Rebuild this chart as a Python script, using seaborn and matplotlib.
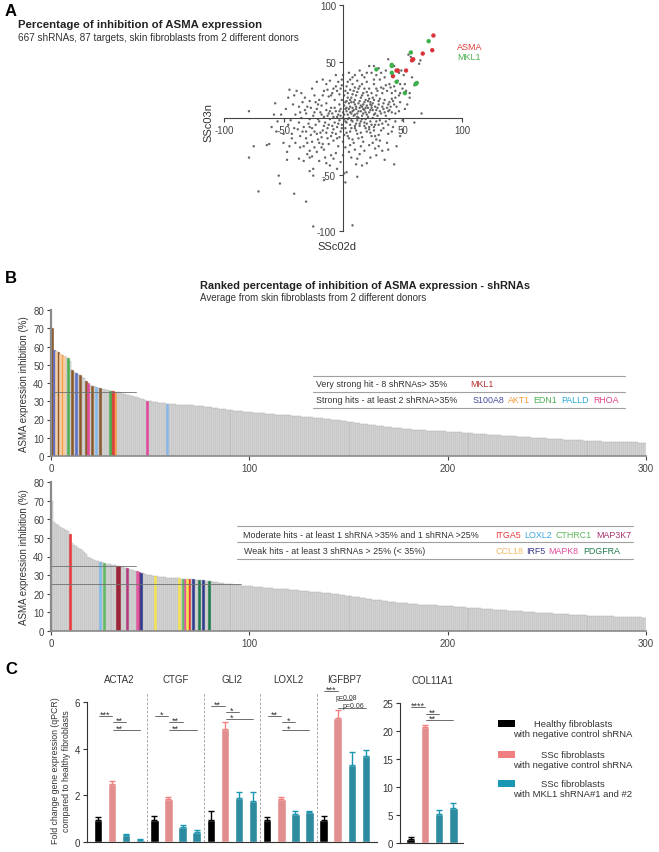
import numpy as np
import pandas as pd
import matplotlib
matplotlib.use("Agg")
import matplotlib.pyplot as plt
import seaborn as sns
from matplotlib.lines import Line2D
from matplotlib.patches import Rectangle

sns.set_theme(style="ticks")
plt.rcParams["font.family"] = ["Liberation Sans", "DejaVu Sans"]
plt.rcParams["axes.unicode_minus"] = False

# ---------------- DATA ----------------
# Panel A: grey shRNA points (SSc02d, SSc03n)
grey_pts = [
    (-79, 6), (-79, -35), (-75, -25), (-64, -24), (-62, -23), (-57, 13), (-39, 24), (-41, 20), (-17, 34), (-1, 34),
    (-71, -65), (-54, -51), (-53, -58), (-41, -67), (-31, -74), (-25, -96), (8, -95), (2, -57), (3, -48), (1, -49),
    (-16, -55), (-25, -51), (-28, -47), (12, -52), (16, -42), (23, -35), (35, -37), (43, -41), (11, -41), (-2, -39),
    (-8, -36), (-11, -42), (-15, -35), (-25, -45), (-28, -35), (-33, -38), (-37, -36), (-47, -30), (-45, -25), (37, -22),
    (33, -29), (48, -16), (60, -4), (66, 4), (38, 52), (26, 46), (22, 46), (65, 51), (64, 48), (55, 56),
    (57, 54), (60, 29), (52, 30), (58, 36), (56, 22), (48, 22), (41, 17), (20, 40), (-14, 30), (-36, 5),
    (-55, -3), (-50, -14), (-60, -8), (-48, 8), (-52, 3), (-43, -18), (-38, -10), (-30, -22), (-22, -30), (-18, -26),
    (5, -30), (15, -25), (25, -22), (30, -15), (42, -8), (50, -2), (52, 8), (45, 10), (47, 40), (49, 42),
    (43, 46), (51, 38),
    (5, 40), (10, 38), (14, 42), (18, 36), (24, 40), (28, 38), (31, 34), (35, 36), (39, 30), (43, 28),
    (46, 33), (50, 26), (53, 24), (36, 42), (30, 44), (12, 33), (8, 30), (3, 28), (-2, 26), (-6, 28),
    (-9, 22), (-12, 19), (-16, 24), (-20, 16), (-24, 20), (-28, 15), (-32, 18), (-26, 26), (-11, 33), (0, 38),
    (6, 34), (16, 30), (20, 32), (22, 26), (26, 30), (29, 24), (33, 22), (37, 24), (41, 22), (44, 18),
    (47, 20), (9, 24), (13, 26), (17, 22), (21, 20), (25, 18), (28, 20), (31, 17), (35, 16), (39, 14),
    (1, 20), (4, 22), (7, 18), (11, 20), (15, 18), (19, 16), (23, 14), (-3, 21), (-7, 16), (-1, 16),
    (3, 15), (-14, 13), (-18, 11), (-5, 24), (-30, 10), (-34, 14), (-42, 12), (-46, 18),
    (0, 5), (2, 8), (4, 3), (6, 10), (8, 6), (10, 12), (12, 4), (14, 9), (16, 2), (18, 7),
    (20, 11), (22, 5), (24, 9), (26, 3), (28, 7), (30, 12), (32, 4), (34, 8), (36, 2), (38, 6),
    (40, 10), (44, 4), (47, 6), (-2, 8), (-4, 3), (-6, 6), (-8, 1), (-10, 9), (-12, 4), (-14, 7),
    (-16, 1), (-19, 5), (-22, 8), (-25, 2), (-28, -1), (-31, 4), (-35, 0), (-40, 3), (-44, -2), (1, -1),
    (3, -4), (5, 0), (7, -2), (9, 2), (11, -5), (13, 0), (15, -3), (17, 4), (19, -1), (21, 1),
    (23, -3), (25, 0), (27, -6), (29, 2), (31, -2), (33, -5), (36, -3), (39, -1), (-1, -6), (-3, -2),
    (-5, -8), (-7, -4), (-9, -7), (-11, -1), (-13, -9), (-15, -4), (-17, -11), (-20, -3), (-23, -6), (-26, -9),
    (-29, -5), (-33, -8), (-37, -4), (-41, -9), (9, 14), (13, 13), (17, 12), (21, 15), (25, 13), (5, 13),
    (1, 11), (-3, 12), (6, 5), (11, 8), (15, 6), (19, 9), (23, 7), (27, 10), (8, 9), (12, 1),
    (16, 10), (20, 3), (24, 11), (3, 9), (7, 14), (10, 3), (14, -7), (18, -4), (22, -8), (26, -11),
    (2, -9), (6, -12), (10, -9), (-2, -12), (-6, -14), (-10, -16), (-14, -13), (-18, -17), (-22, -14), (-27, -15),
    (-31, -12), (-36, -16), (-40, -22), (4, -16), (8, -19), (12, -14), (16, -17), (20, -12), (24, -16), (28, -19),
    (32, -11), (0, -21), (-4, -25), (-8, -20), (-12, -23), (-16, -28), (-20, -22), (-24, -26), (-28, -29), (-33, -25),
    (2, -26), (6, -24), (10, -28), (14, -32), (18, -29), (22, -24), (27, -27), (-6, -31), (-10, -33), (-3, -17),
    (1, 3), (3, 6), (5, 8), (7, 4), (9, 7), (11, 10), (13, 6), (15, 11), (17, 8), (19, 5),
    (21, 9), (23, 12), (25, 7), (27, 4), (29, 9), (31, 6), (33, 10), (35, 5), (37, 9), (39, 7),
    (41, 5), (43, 12), (2, 14), (6, 16), (10, 16), (14, 15), (18, 14), (22, 17), (26, 16), (30, 15),
    (34, 13), (38, 12), (42, 15), (4, 18), (8, 21), (12, 23), (16, 20), (20, 23), (24, 22), (28, 26),
    (32, 27), (36, 29), (40, 27), (44, 24), (14, 28), (18, 26), (10, 27), (6, 25), (2, 24), (-1, 29),
    (-4, 32), (-8, 26), (-13, 25), (-17, 20), (-21, 12), (-23, 14), (-27, 9), (-32, 7), (-37, 10), (-3, 6),
    (-5, 1), (-7, 9), (-9, 4), (-11, 6), (-13, 2), (-18, 3), (-21, -1), (-24, 5), (-2, 2), (0, 0),
    (2, -3), (4, -1), (6, -6), (8, -3), (10, -7), (12, -2), (14, -5), (16, -1), (18, -7), (20, -5),
    (22, -10), (24, -6), (26, -8), (28, -3), (30, -6), (34, -9), (38, -6), (41, -12), (-1, -9), (-4, -5),
    (-8, -10), (-12, -6), (-16, -7), (-19, -13), (-24, -12), (-28, -8), (-34, -12), (3, -13), (7, -9), (11, -11),
    (15, -13), (19, -9), (23, -13), (27, -16), (31, -20), (1, -15), (5, -18), (9, -22), (13, -18), (17, -21),
    (-5, -18), (-9, -13), (-13, -18), (-17, -23), (-21, -19), (-26, -21), (-31, -18), (-36, -26), (-43, -14), (-46, -6),
    (-50, -22), (-56, -12), (-58, 3), (-47, -37), (-20, -38), (-5, -45), (7, -35), (20, -40), (28, -33), (38, -28),
    (45, -25), (50, -10), (54, 12), (56, 18), (48, 30), (42, 38), (32, 40), (16, 38), (8, 36), (-6, 38),
    (-22, 32), (-35, 22), (-45, 25), (-30, -32), (-14, -40), (0, -33), (12, -36), (30, -25), (38, -14), (44, -3),
    (48, 14), (34, 26), (26, 34), (4, 32), (-10, 20), (-26, -34),
]
asma_pts = [(76, 73), (75, 60), (67, 57), (58, 51), (59, 52), (53, 42), (46, 42), (45, 42), (42, 37)]
mkl1_pts = [(72, 68), (57, 58), (41, 47), (41, 46), (28, 43), (41, 40), (45, 32), (62, 31), (61, 30), (52, 22)]

# Panel B: ranked mean % inhibition (top 300 shRNAs)
ranked = [
    70.0, 58.3, 57.5, 56.8, 56.0, 55.3, 54.8, 54.3, 53.5, 52.2,
    47.0, 46.2, 45.5, 44.8, 44.2, 43.4, 42.5, 41.3, 39.8, 39.0,
    38.4, 38.1, 37.8, 37.4, 37.1, 36.8, 36.5, 36.2, 36.0, 35.8,
    35.6, 35.5, 35.3, 35.1, 34.8, 34.5, 34.2, 33.9, 33.6, 33.3,
    33.0, 32.7, 32.4, 32.1, 31.7, 31.3, 31.0, 30.6, 30.3, 30.1,
    29.9, 29.7, 29.5, 29.4, 29.2, 29.0, 28.9, 28.8, 28.6, 28.5,
    28.4, 28.3, 28.3, 28.2, 28.2, 28.1, 28.1, 28.0, 28.0, 27.9,
    27.8, 27.7, 27.6, 27.5, 27.4, 27.3, 27.2, 27.1, 27.0, 26.8,
    26.7, 26.5, 26.3, 26.2, 26.0, 25.9, 25.7, 25.5, 25.4, 25.3,
    25.1, 25.0, 24.9, 24.8, 24.6, 24.5, 24.4, 24.3, 24.2, 24.1,
    24.0, 23.9, 23.8, 23.7, 23.6, 23.5, 23.4, 23.3, 23.2, 23.1,
    23.0, 22.9, 22.8, 22.7, 22.6, 22.5, 22.4, 22.4, 22.3, 22.3,
    22.2, 22.1, 22.0, 21.9, 21.8, 21.7, 21.6, 21.5, 21.4, 21.3,
    21.2, 21.1, 21.0, 20.9, 20.8, 20.7, 20.6, 20.5, 20.4, 20.3,
    20.2, 20.0, 19.9, 19.8, 19.6, 19.5, 19.3, 19.2, 19.0, 18.9,
    18.7, 18.6, 18.4, 18.3, 18.1, 18.0, 17.8, 17.7, 17.5, 17.4,
    17.2, 17.0, 16.9, 16.8, 16.6, 16.5, 16.4, 16.2, 16.1, 16.0,
    15.8, 15.7, 15.6, 15.5, 15.3, 15.2, 15.1, 15.0, 14.9, 14.8,
    14.7, 14.6, 14.5, 14.4, 14.3, 14.2, 14.1, 14.1, 14.0, 13.9,
    13.9, 13.8, 13.8, 13.7, 13.7, 13.6, 13.6, 13.5, 13.5, 13.4,
    13.3, 13.3, 13.2, 13.1, 13.0, 12.9, 12.9, 12.8, 12.7, 12.6,
    12.5, 12.5, 12.4, 12.3, 12.2, 12.1, 12.1, 12.0, 11.9, 11.8,
    11.7, 11.7, 11.6, 11.5, 11.4, 11.4, 11.3, 11.2, 11.1, 11.1,
    11.0, 10.9, 10.8, 10.8, 10.7, 10.6, 10.5, 10.5, 10.4, 10.3,
    10.2, 10.2, 10.1, 10.0, 9.9, 9.9, 9.8, 9.7, 9.7, 9.6,
    9.5, 9.5, 9.4, 9.3, 9.3, 9.2, 9.1, 9.1, 9.0, 8.9,
    8.9, 8.8, 8.8, 8.7, 8.6, 8.6, 8.5, 8.5, 8.4, 8.4,
    8.3, 8.3, 8.2, 8.2, 8.1, 8.1, 8.0, 8.0, 7.9, 7.9,
    7.9, 7.8, 7.8, 7.8, 7.7, 7.7, 7.7, 7.6, 7.6, 7.6,
    7.5, 7.5, 7.5, 7.4, 7.4, 7.4, 7.3, 7.3, 7.2, 7.1,
]
# highlighted ranks (index into ranked) and gene for each panel
top_hits = {
    "MKL1": [0, 3, 10, 14, 17, 20, 24, 30],
    "S100A8": [1, 12],
    "AKT1": [5, 32],
    "AKT1b": [2, 4, 6],
    "EDN1": [8, 29],
    "PALLD": [22, 58],
    "RHOA": [18, 48],
    "RED": [31],
}
bottom_hits = {
    "ITGA5": [9, 69],
    "LOXL2": [24],
    "CTHRC1": [26, 66],
    "DARKRED": [33, 34],
    "MAP3K7": [38, 44],
    "MAPK8": [43, 67],
    "IRF5": [45, 71, 76],
    "CCL18": [52, 64, 68],
    "PDGFRA": [74, 79],
}

# Panel C: qPCR fold change
genes_c = ["ACTA2", "CTGF", "GLI2", "LOXL2", "IGFBP7"]
conds = ["Healthy NC", "SSc NC", "SSc MKL1 #1", "SSc MKL1 #2"]
fold_vals = [
    [0.95, 2.5, 0.30, 0.08],
    [0.95, 1.85, 0.63, 0.45],
    [0.95, 4.85, 1.88, 1.75],
    [0.95, 1.83, 1.22, 1.30],
    [0.95, 5.30, 3.30, 3.70],
]
fold_err = [
    [0.12, 0.10, 0.04, 0.03],
    [0.17, 0.07, 0.12, 0.05],
    [0.37, 0.28, 0.27, 0.38],
    [0.12, 0.10, 0.12, 0.05],
    [0.17, 0.35, 0.55, 0.25],
]
col11a1_vals = [0.8, 20.8, 5.2, 6.3]
col11a1_err = [0.2, 0.3, 0.7, 0.8]
sig_main = [
    (0, 1, 5.40, "***"), (1, 2, 5.14, "**"), (1, 3, 4.80, "**"),
    (4, 5, 5.40, "*"), (5, 6, 5.14, "**"), (5, 7, 4.80, "**"),
    (8, 9, 5.83, "**"), (9, 10, 5.57, "*"), (9, 11, 5.27, "*"),
    (12, 13, 5.40, "**"), (13, 14, 5.14, "*"), (13, 15, 4.80, "*"),
    (16, 17, 6.48, "***"), (17, 18, 6.10, "p=0.08"), (17, 19, 5.75, "p=0.06"),
]
sig_col = [(0, 1, 24.3, "****"), (1, 2, 23.0, "**"), (1, 3, 22.0, "**")]

# ---------------- STYLE ----------------
C_BLACK, C_PINK, C_TEAL = "#000000", "#F08080", "#1A97B2"
cond_pal = {conds[0]: C_BLACK, conds[1]: C_PINK, conds[2]: C_TEAL, conds[3]: C_TEAL}
hit_colors = {
    "MKL1": "#8B5A2B", "S100A8": "#5B6FC8", "AKT1": "#F5A04A", "AKT1b": "#F5CDA5",
    "EDN1": "#4CB050", "PALLD": "#86B7E8", "RHOA": "#E0489A", "RED": "#E04040",
    "ITGA5": "#E8383A", "LOXL2": "#7DBBE8", "CTHRC1": "#5DBB63", "DARKRED": "#9B2335",
    "MAP3K7": "#B03A7E", "MAPK8": "#E05AA0", "IRF5": "#2E3A8C", "CCL18": "#F2E250",
    "PDGFRA": "#1E7A4A",
}
TXT = "#333333"

W, H = 659, 853
fig = plt.figure(figsize=(W / 100, H / 100), dpi=100)


def ax_px(x0, y0, x1, y1):
    return fig.add_axes([x0 / W, 1 - y1 / H, (x1 - x0) / W, (y1 - y0) / H])


def ftext(x, y, s, **kw):
    kw.setdefault("color", TXT)
    kw.setdefault("va", "center")
    fig.text(x / W, 1 - y / H, s, **kw)


def fline(x0, y0, x1, y1, **kw):
    fig.add_artist(Line2D([x0 / W, x1 / W], [1 - y0 / H, 1 - y1 / H], **kw))


# ---------------- PANEL A ----------------
ftext(5, 11, "A", fontsize=12, weight="bold", color="black")
ftext(18, 25, "Percentage of inhibition of ASMA expression", fontsize=8.2, weight="bold", color="#222")
ftext(18, 38, "667 shRNAs, 87 targets, skin fibroblasts from 2 different donors", fontsize=7.2)

axA = ax_px(224, 6, 462, 232)
gdf = pd.DataFrame(grey_pts, columns=["x", "y"])
sns.scatterplot(data=gdf, x="x", y="y", s=3, color="#666666", edgecolor="none", ax=axA)
adf = pd.DataFrame(asma_pts, columns=["x", "y"])
mdf = pd.DataFrame(mkl1_pts, columns=["x", "y"])
sns.scatterplot(data=adf, x="x", y="y", s=10, color="#D9343A", edgecolor="none", ax=axA)
sns.scatterplot(data=mdf, x="x", y="y", s=10, color="#3DB04B", edgecolor="none", ax=axA)
axA.set_xlim(-100, 100)
axA.set_ylim(-100, 100)
axA.spines["left"].set_position(("data", 0))
axA.spines["bottom"].set_position(("data", 0))
axA.spines["top"].set_visible(False)
axA.spines["right"].set_visible(False)
for s in ("left", "bottom"):
    axA.spines[s].set_color("#444")
    axA.spines[s].set_linewidth(0.8)
axA.set_xticks([-100, -50, 50, 100])
axA.set_yticks([-100, -50, 50, 100])
axA.tick_params(labelsize=7, colors="#444", length=3, width=0.8, pad=2)
axA.set_xlabel("")
axA.set_ylabel("")
axA.patch.set_alpha(0)
ftext(337, 247, "SSc02d", fontsize=8, ha="center")
ftext(208, 122, "SSc03n", fontsize=8, ha="center", rotation=90)
ftext(457, 47, "ASMA", fontsize=6.5, color="#E0403F")
ftext(457, 57, "MKL1", fontsize=6.5, color="#4CB050")

# ---------------- PANEL B ----------------
ftext(5, 279, "B", fontsize=12, weight="bold", color="black")
ftext(200, 286, "Ranked percentage of inhibition of ASMA expression - shRNAs", fontsize=7.9, weight="bold", color="#222")
ftext(200, 298, "Average from skin fibroblasts from 2 different donors", fontsize=7)

ranks = np.arange(len(ranked))


def ranked_axes(box, hits, reflines):
    ax = ax_px(*box)
    ax.bar(ranks, ranked, width=1, align="edge", color="#DCDCDC", edgecolor="#ABABAB", linewidth=0.3)
    for gene, idxs in hits.items():
        ax.bar(idxs, [ranked[i] for i in idxs], width=1, align="edge",
               color=hit_colors[gene], edgecolor=hit_colors[gene], linewidth=0.4)
    for yv, xend in reflines:
        ax.plot([0, xend], [yv, yv], color="#707070", lw=0.6)
    ax.set_xlim(0, 300)
    ax.set_ylim(0, 80)
    ax.set_yticks(range(0, 81, 10))
    ax.set_xticks([0, 100, 200, 300])
    sns.despine(ax=ax)
    ax.spines["left"].set_color("#8A8A8A")
    ax.spines["left"].set_linewidth(1.6)
    ax.spines["bottom"].set_color("#8A8A8A")
    ax.spines["bottom"].set_linewidth(1.2)
    ax.tick_params(labelsize=7, colors="#444", length=3, width=0.8, pad=2)
    ax.set_ylabel("ASMA expression inhibition (%)", fontsize=7, color=TXT, labelpad=3)
    return ax


ranked_axes((51, 311, 646, 457), top_hits, [(35, 43)])
ranked_axes((51, 483, 646, 632), bottom_hits, [(35, 43), (25, 96)])

# hit tables
for yy in (377, 393, 409):
    fline(313, yy, 625, yy, color="#A0A0A0", lw=0.8)
ftext(316, 385, "Very strong hit - 8 shRNAs> 35%", fontsize=6.4)
ftext(316, 401, "Strong hits - at least 2 shRNA>35%", fontsize=6.4)
ftext(470, 385, "MKL1", fontsize=6.4, color="#B5322E")
for name, xx, col in [("S100A8", 473, "#4A4AA0"), ("AKT1", 508, "#F39A3C"), ("EDN1", 533, "#4CAF50"),
                      ("PALLD", 561, "#29A8D8"), ("RHOA", 593, "#E0458A")]:
    ftext(xx, 401, name, fontsize=6.4, color=col)

for yy in (527, 543, 560):
    fline(237, yy, 633, yy, color="#A0A0A0", lw=0.8)
ftext(243, 535, "Moderate hits - at least 1 shRNA >35% and 1 shRNA >25%", fontsize=6.4)
ftext(244, 552, "Weak hits - at least 3 shRNAs > 25% (< 35%)", fontsize=6.4)
for name, xx, col in [("ITGA5", 495, "#E8383A"), ("LOXL2", 524, "#3AA8E0"), ("CTHRC1", 555, "#5CB85C"),
                      ("MAP3K7", 596, "#A8306F")]:
    ftext(xx, 535, name, fontsize=6.4, color=col)
for name, xx, col in [("CCL18", 495, "#F2B860"), ("IRF5", 526, "#3A3A90"), ("MAPK8", 548, "#E0509A"),
                      ("PDGFRA", 583, "#1E7A4A")]:
    ftext(xx, 552, name, fontsize=6.4, color=col)

# ---------------- PANEL C ----------------
ftext(5, 669, "C", fontsize=12, weight="bold", color="black")

rows = []
for g, gene in enumerate(genes_c):
    for j, cond in enumerate(conds):
        rows.append({"pos": g * 4 + j, "gene": gene, "cond": cond,
                     "val": fold_vals[g][j], "err": fold_err[g][j]})
cdf = pd.DataFrame(rows)

axC = ax_px(87, 703, 377, 843)
sns.barplot(data=cdf, x="pos", y="val", hue="cond", palette=cond_pal, native_scale=True,
            dodge=False, width=0.6, errorbar=None, legend=False, ax=axC)
for cond in conds:
    sub = cdf[cdf["cond"] == cond]
    axC.errorbar(sub["pos"], sub["val"], yerr=[np.zeros(len(sub)), sub["err"]], fmt="none",
                 ecolor=cond_pal[cond], elinewidth=1.0, capsize=2.5, capthick=1.0)
axC.set_xlim(-0.78, 19.79)
axC.set_ylim(0, 6)
axC.set_yticks([0, 2, 4, 6])
axC.set_xticks([])
axC.set_xlabel("")
axC.set_ylabel("")
sns.despine(ax=axC)
for s in ("left", "bottom"):
    axC.spines[s].set_color("#333")
    axC.spines[s].set_linewidth(0.8)
axC.tick_params(labelsize=7, colors="#333", length=3, width=0.8, pad=2)
for xb in (3.5, 7.5, 11.5, 15.5):
    axC.plot([xb, xb], [0, 6.45], ls=(0, (3, 2)), color="#9A9A9A", lw=0.6, clip_on=False)
for g, gene in enumerate(genes_c):
    axC.text(g * 4 + 1.5, 7.0, gene, ha="center", va="center", fontsize=7, color=TXT, clip_on=False)


def sig(ax, items, px_unit):
    # px_unit: data units per pixel on y
    for x0, x1, yv, lab in items:
        ax.plot([x0 + 0.05, x1], [yv, yv], color="#555", lw=0.6, clip_on=False)
        if lab.startswith("p"):
            ax.text((x0 + x1) / 2 + 0.1, yv + 0.8 * px_unit, lab, ha="center", va="baseline",
                    fontsize=5.0, color=TXT, clip_on=False)
        else:
            ax.text(x0 + 0.5, yv - 0.8 * px_unit, lab, ha="center", va="baseline",
                    fontsize=6.5, color=TXT, clip_on=False)


sig(axC, sig_main, 6 / 140)

col_df = pd.DataFrame({"pos": [0, 1, 2, 3], "cond": conds, "val": col11a1_vals, "err": col11a1_err})
axD = ax_px(400, 704, 463, 844)
sns.barplot(data=col_df, x="pos", y="val", hue="cond", palette=cond_pal, native_scale=True,
            dodge=False, width=0.6, errorbar=None, legend=False, ax=axD)
for cond in conds:
    sub = col_df[col_df["cond"] == cond]
    axD.errorbar(sub["pos"], sub["val"], yerr=[np.zeros(len(sub)), sub["err"]], fmt="none",
                 ecolor=cond_pal[cond], elinewidth=1.0, capsize=2.5, capthick=1.0)
axD.set_xlim(-0.75, 3.68)
axD.set_ylim(0, 25)
axD.set_yticks([0, 5, 10, 15, 20, 25])
axD.set_xticks([])
axD.set_xlabel("")
axD.set_ylabel("")
sns.despine(ax=axD)
for s in ("left", "bottom"):
    axD.spines[s].set_color("#333")
    axD.spines[s].set_linewidth(0.8)
axD.tick_params(labelsize=7, colors="#333", length=3, width=0.8, pad=2)
axD.text(1.5, 25 * 7.0 / 6, "COL11A1", ha="center", va="center", fontsize=7, color=TXT, clip_on=False)
sig(axD, sig_col, 25 / 140)

ftext(61, 771, "Fold change gene expression (qPCR)\ncompared to healthy fibroblasts",
      fontsize=6.3, ha="center", rotation=90, multialignment="center", linespacing=1.3)

# legend for C
for yy, col, l1, l2 in [(725, C_BLACK, "Healthy fibroblasts", "with negative control shRNA"),
                        (756, C_PINK, "SSc fibroblasts", "with negative control shRNA"),
                        (785, C_TEAL, "SSc fibroblasts", "with MKL1 shRNA#1 and #2")]:
    fig.add_artist(Rectangle((498 / W, 1 - (yy + 3) / H), 17 / W, 7 / H, transform=fig.transFigure,
                             facecolor=col, edgecolor="none"))
    ftext(573, yy, l1, fontsize=6.8, ha="center")
    ftext(573, yy + 10, l2, fontsize=6.8, ha="center")

fig.savefig("out.png", dpi=100)
